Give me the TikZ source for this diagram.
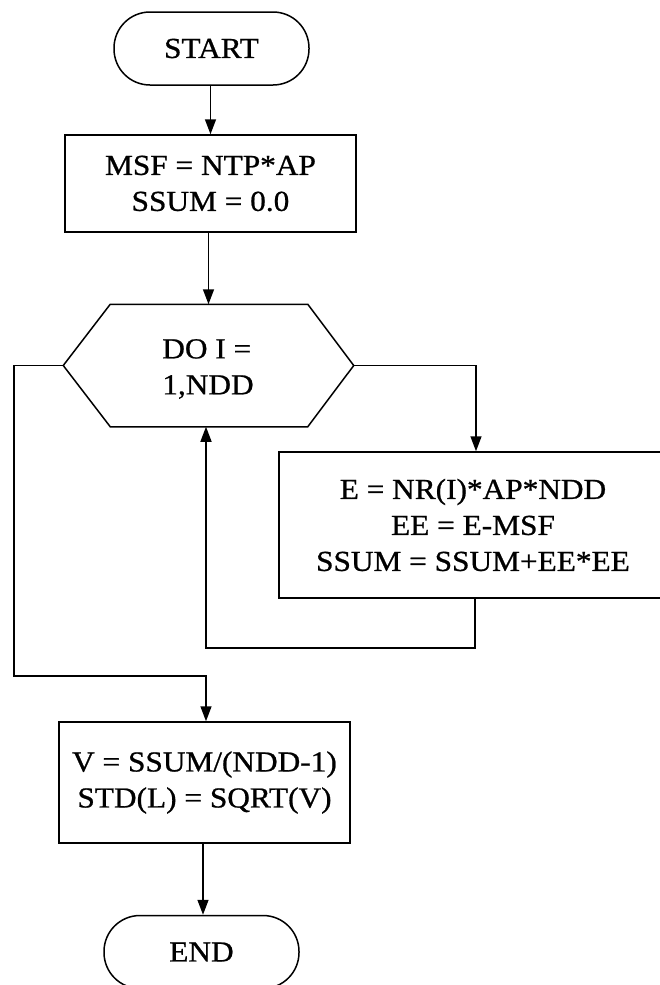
\documentclass[tikz,border=0pt]{standalone}
\usepackage{fontspec}
\setmainfont{Liberation Serif}[FakeStretch=1.08,FakeBold=0.8]
\usetikzlibrary{arrows.meta}
\begin{document}
\begin{tikzpicture}[x=1pt,y=-1pt,
  every node/.style={font=\fontsize{29}{36}\selectfont, inner sep=0pt, align=center},
  term/.style={draw, rounded corners=36pt, minimum width=195pt, minimum height=73pt},
  proc/.style={draw, rectangle},
  arr/.style={-{Triangle[length=15pt,width=11pt]}},
  line width=1.5pt]
\useasboundingbox (0,0) rectangle (659,985);
\node[term] (start) at (211.5,48.5) {START};
\node[proc, minimum width=291pt, minimum height=97pt] (b1) at (210.5,183.5) {MSF = NTP*AP\\SSUM = 0.0};
\node[minimum width=289pt, minimum height=121pt] (hex) at (208.5,365.5) {};
\node[align=left] (hext) at (208,369) {DO I =\\1,NDD};
\draw ([xshift=47pt]hex.north west) -- ([xshift=-46pt]hex.north east) -- (hex.east)
  -- ([xshift=-46pt]hex.south east) -- ([xshift=47pt]hex.south west) -- (hex.west) -- cycle;
\node[proc, minimum width=388pt, minimum height=146pt] (b2) at (473,525) {E = NR(I)*AP*NDD\\EE = E-MSF\\SSUM = SSUM+EE*EE};
\node[proc, minimum width=291pt, minimum height=121pt] (b3) at (204.5,782.5) {V = SSUM/(NDD-1)\\STD(L) = SQRT(V)};
\node[term] (end) at (201.5,952) {END};
\coordinate (lp) at (0,648);
\coordinate (lx) at (14,676);
\draw[arr] (start.south -| b1.north) -- (b1.north);
\draw[arr] (b1.south -| hex.north) -- (hex.north);
\draw[arr] (hex.east) -| ([xshift=3pt]b2.north);
\draw[arr] ([xshift=2pt]b2.south) -- ([xshift=2pt]b2.south |- lp) -| ([xshift=-2.5pt]hex.south);
\draw[arr] (hex.west) -| (lx) -| ([xshift=1.5pt]b3.north);
\draw[arr] ([xshift=-1.5pt]b3.south) -- ([xshift=-1.5pt]b3.south |- end.north);
\end{tikzpicture}
\end{document}
